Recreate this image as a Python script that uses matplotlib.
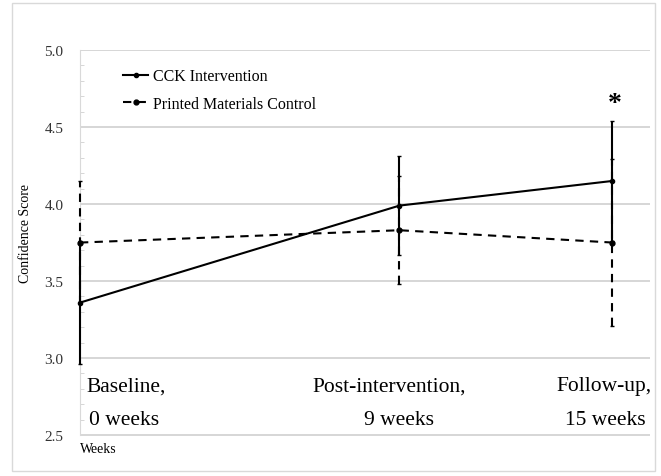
import matplotlib.pyplot as plt
from matplotlib.patches import Rectangle
from matplotlib.lines import Line2D
from matplotlib.ticker import MultipleLocator

weeks = [0, 9, 15]
cck_mean = [3.36, 3.99, 4.15]
cck_err = [0.40, 0.32, 0.39]
ctrl_mean = [3.75, 3.83, 3.75]
ctrl_err = [0.40, 0.35, 0.54]
grid_levels = [2.5, 3.0, 3.5, 4.0, 4.5, 5.0]


def unclip(container):
    line, caps, bars = container.lines
    line.set_clip_on(False)
    for c in caps:
        c.set_clip_on(False)
    for b in bars:
        b.set_clip_on(False)


def main():
    plt.rcParams['font.family'] = ['Liberation Serif', 'DejaVu Serif']
    fig = plt.figure(figsize=(6.61, 4.77), dpi=100)
    ax = fig.add_axes([0.121, 0.06, 0.862, 0.833])

    # outer frame around the whole chart
    fig.patches.append(Rectangle((0.018, 0.01), 0.973, 0.981, transform=fig.transFigure,
                                 fill=False, edgecolor='#d9d9d9', linewidth=1.0))

    ctrl = ax.errorbar(weeks, ctrl_mean, yerr=ctrl_err, color='black', linestyle='--',
                       linewidth=1.5, marker='o', markersize=3.5, capsize=1.5,
                       elinewidth=1.5, dashes=(4, 3), zorder=3)
    ctrl.lines[2][0].set_linestyle((0, (4, 3)))
    unclip(ctrl)
    cck = ax.errorbar(weeks, cck_mean, yerr=cck_err, color='black', linestyle='-',
                      linewidth=1.5, marker='o', markersize=3, capsize=1.5, elinewidth=1.5,
                      zorder=4)
    unclip(cck)

    ax.set_xlim(0, 16.05)
    ax.set_ylim(2.42, 5.0)
    ax.yaxis.set_minor_locator(MultipleLocator(0.1))
    ax.set_yticks(grid_levels, [f"{v:.1f}" for v in grid_levels])
    ax.tick_params(axis='y', which='major', length=0, labelsize=11, labelcolor='#333333', pad=12)
    ax.tick_params(axis='y', which='minor', length=3, color='#d0d0d0', direction='in')
    ax.set_xticks([])
    ax.hlines(grid_levels, 0, 16.05, colors='#d0d0d0', linewidth=1.2, zorder=1)
    for s in ['top', 'right', 'bottom']:
        ax.spines[s].set_visible(False)
    ax.spines['left'].set_color('#d9d9d9')
    ax.spines['left'].set_bounds(2.5, 5.0)

    # time point labels sit inside the plot area
    ax.text(0.17, 2.82, "Baseline,", fontsize=15.5, va='center', ha='left')
    ax.text(0.25, 2.6, "0 weeks", fontsize=15.5, va='center', ha='left')
    ax.text(8.7, 2.82, "Post-intervention,", fontsize=15.5, va='center', ha='center')
    ax.text(9.0, 2.6, "9 weeks", fontsize=15.5, va='center', ha='center')
    ax.text(14.75, 2.82, "Follow-up,", fontsize=15.5, va='center', ha='center')
    ax.text(14.8, 2.6, "15 weeks", fontsize=15.5, va='center', ha='center')

    ax.text(15.06, 4.65, "*", fontsize=20, fontweight='bold', ha='center', va='center')

    ax.text(0.51, 2.41, "Weeks", fontsize=10, ha='center', va='center',
            transform=ax.get_yaxis_transform().inverted() + ax.transData
            if False else ax.transData)
    ax.set_ylabel("Confidence Score", fontsize=10)
    ax.yaxis.set_label_coords(-0.085, 0.54)

    handles = [
        Line2D([], [], color='black', linewidth=1.5, marker='o', markersize=3),
        Line2D([], [], color='black', linewidth=1.5, linestyle=(0, (4, 3)), marker='o',
               markersize=3.5),
    ]
    ax.legend(handles, ["CCK Intervention", "Printed Materials Control"], loc='upper left',
              bbox_to_anchor=(0.05, 0.99), frameon=False, fontsize=11.5, handlelength=1.6,
              handletextpad=0.3, labelspacing=0.7)

    fig.savefig("out.png", dpi=100)


if __name__ == "__main__":
    main()
